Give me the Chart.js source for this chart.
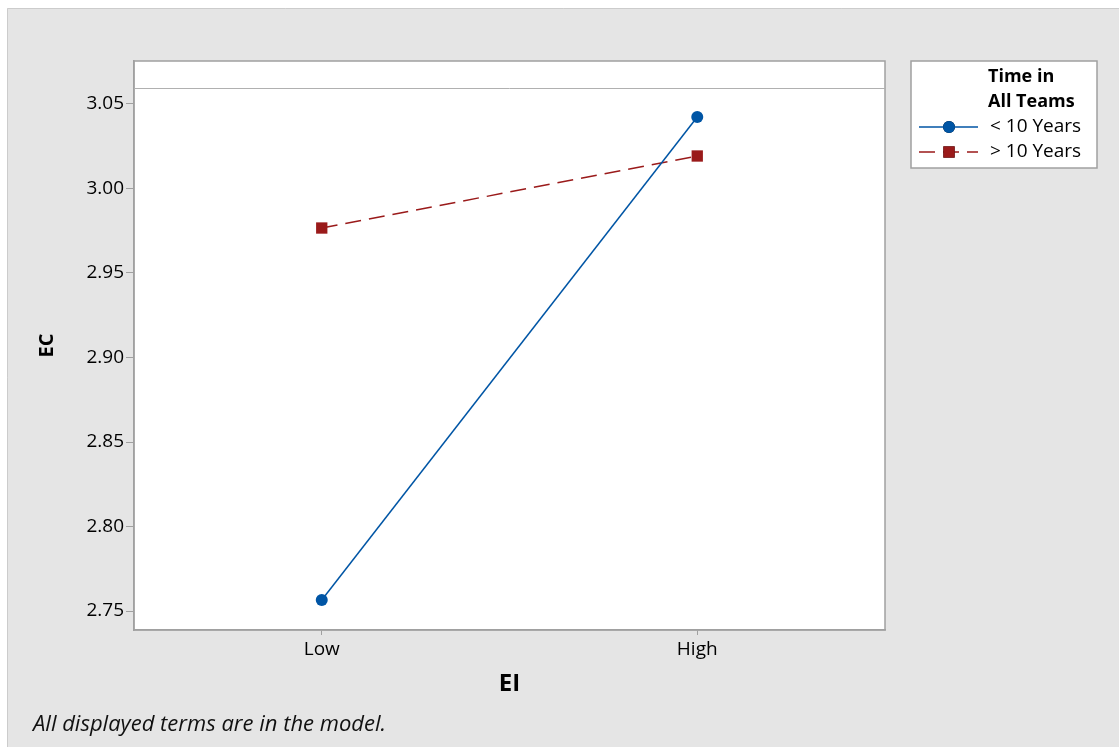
<!DOCTYPE html>
<html>
<head>
<meta charset="utf-8">
<script src="https://cdn.jsdelivr.net/npm/chart.js@4/dist/chart.umd.min.js"></script>
<style>
  html, body { margin: 0; padding: 0; background: #fff; }
  #wrap { width: 1119px; height: 747px; }
</style>
</head>
<body>
<div id="wrap"><canvas id="myChart"></canvas></div>
<script>
  "use strict";

  // data
  const categories = ["Low", "High"];
  const under10 = [2.7565, 3.0423];
  const over10 = [2.9766, 3.0192];
  const yTicks = [2.75, 2.80, 2.85, 2.90, 2.95, 3.00, 3.05];
  const legendTitle = ["Time in", "All Teams"];
  const seriesNames = ["< 10 Years", "> 10 Years"];

  const FONT = "'Open Sans', 'Noto Sans', sans-serif";
  const BLUE = "#0055a5";
  const RED = "#9a1a1a";
  const FRAME = "#a0a0a0";
  const HEADER = 27; // empty strip at the top of the plot frame

  const backdrop = {
    id: "backdrop",
    beforeDraw(chart) {
      const ctx = chart.ctx;
      const a = chart.chartArea;
      ctx.save();
      ctx.fillStyle = "#fff";
      ctx.fillRect(0, 0, chart.width, chart.height);
      ctx.fillStyle = "#e5e5e5";
      ctx.fillRect(7, 8, chart.width - 7, chart.height - 8);
      ctx.strokeStyle = "#cccccc";
      ctx.lineWidth = 1;
      ctx.beginPath();
      ctx.moveTo(7.5, chart.height);
      ctx.lineTo(7.5, 8.5);
      ctx.lineTo(chart.width, 8.5);
      ctx.stroke();
      ctx.fillStyle = "#fff";
      ctx.fillRect(a.left, a.top, a.right - a.left, a.bottom - a.top);
      ctx.restore();
    },
    afterDraw(chart) {
      const ctx = chart.ctx;
      const a = chart.chartArea;
      ctx.save();
      ctx.strokeStyle = FRAME;
      ctx.lineWidth = 1.5;
      ctx.strokeRect(a.left, a.top, a.right - a.left, a.bottom - a.top);
      ctx.lineWidth = 1;
      ctx.strokeStyle = "#b0b0b0";
      ctx.beginPath();
      ctx.moveTo(a.left, a.top + HEADER + 0.5);
      ctx.lineTo(a.right, a.top + HEADER + 0.5);
      ctx.stroke();

      // footnote
      ctx.fillStyle = "#111";
      ctx.font = "italic 22px " + FONT;
      ctx.textBaseline = "middle";
      ctx.textAlign = "left";
      ctx.fillText("All displayed terms are in the model.", 33, 725);

      // legend, styles taken from the datasets
      const lx = 911, ly = 61, lw = 186, lh = 107;
      ctx.fillStyle = "#fff";
      ctx.fillRect(lx, ly, lw, lh);
      ctx.strokeStyle = FRAME;
      ctx.lineWidth = 1.5;
      ctx.strokeRect(lx, ly, lw, lh);
      ctx.fillStyle = "#000";
      ctx.font = "bold 18px " + FONT;
      legendTitle.forEach((t, i) => ctx.fillText(t, 988, 77 + i * 25));
      ctx.font = "19px " + FONT;
      chart.data.datasets.forEach((ds, i) => {
        const y = 127 + i * 25;
        ctx.strokeStyle = ds.borderColor;
        ctx.lineWidth = ds.borderWidth;
        ctx.setLineDash(ds.borderDash || []);
        ctx.beginPath();
        ctx.moveTo(919, y);
        ctx.lineTo(978, y);
        ctx.stroke();
        ctx.setLineDash([]);
        Chart.helpers.drawPoint(ctx, {
          pointStyle: ds.pointStyle,
          radius: ds.pointRadius,
          rotation: 0,
          borderWidth: 0
        }, 949, y);
        ctx.fillStyle = ds.pointBackgroundColor;
        ctx.fill();
        ctx.fillStyle = "#000";
        ctx.fillText(ds.label, 990, y);
      });
      ctx.restore();
    }
  };

  const ctx = document.getElementById("myChart");
  const chart = new Chart(ctx, {
    type: "line",
    data: {
      labels: categories,
      datasets: [
        {
          label: seriesNames[0],
          data: under10,
          borderColor: BLUE,
          borderWidth: 1.5,
          pointStyle: "circle",
          pointRadius: 6,
          pointBackgroundColor: BLUE,
          pointBorderColor: BLUE,
          pointBorderWidth: 0
        },
        {
          label: seriesNames[1],
          data: over10,
          borderColor: RED,
          borderWidth: 1.5,
          borderDash: [16, 8],
          pointStyle: "rect",
          pointRadius: 8,
          pointBackgroundColor: RED,
          pointBorderColor: RED,
          pointBorderWidth: 0
        }
      ]
    },
    options: {
      responsive: true,
      maintainAspectRatio: false,
      animation: false,
      layout: { padding: { left: 35, top: 61, right: 234, bottom: 47 } },
      plugins: {
        legend: { display: false },
        tooltip: { enabled: false }
      },
      scales: {
        x: {
          type: "category",
          offset: true,
          grid: { offset: false, drawOnChartArea: false, drawTicks: true, tickLength: 5, color: FRAME },
          border: { color: FRAME, width: 1.5 },
          ticks: { color: "#000", padding: 3, font: { family: FONT, size: 19 } },
          title: { display: true, text: "EI", color: "#000", padding: { top: 0, bottom: 1 }, font: { family: FONT, size: 24, weight: "bold" } },
          afterFit(scale) { scale.height = 70; }
        },
        y: {
          min: 2.7388,
          max: 3.0754,
          grid: { drawOnChartArea: false, drawTicks: true, tickLength: 8, color: FRAME },
          border: { color: FRAME, width: 1.5 },
          ticks: {
            color: "#000",
            padding: 2,
            font: { family: FONT, size: 19 },
            callback: (v) => Number(v).toFixed(2)
          },
          afterBuildTicks(scale) { scale.ticks = yTicks.map((v) => ({ value: v })); },
          title: { display: true, text: "EC", color: "#000", padding: { top: 0, bottom: 0 }, font: { family: FONT, size: 20, weight: "bold" } },
          afterFit(scale) { scale.width = 99; }
        }
      }
    },
    plugins: [backdrop]
  });
</script>
</body>
</html>
